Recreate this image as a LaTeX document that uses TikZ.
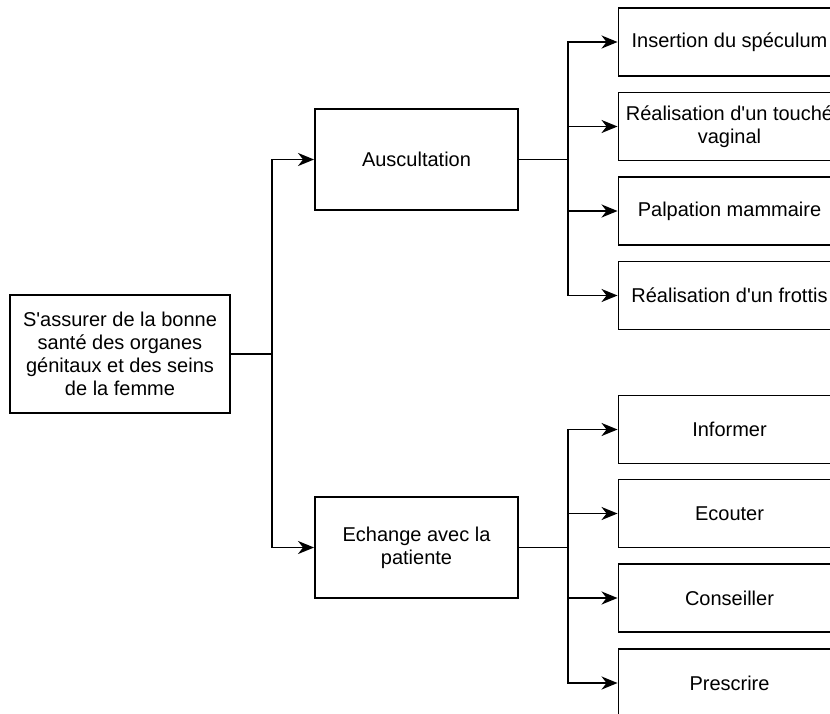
\documentclass[tikz,border=0pt]{standalone}
\usepackage{fontspec}
\newfontfamily\diafont{Liberation Sans}
\usetikzlibrary{arrows.meta}
\begin{document}
\begin{tikzpicture}[x=1pt,y=-1pt,
  box/.style={draw=black,line width=1.9pt,fill=white,align=center,
    font=\diafont\fontsize{20}{23}\selectfont,inner sep=0pt},
  rootbox/.style={box,minimum width=220pt,minimum height=118pt},
  midbox/.style={box,minimum width=203pt,minimum height=101pt},
  leafbox/.style={box,minimum width=222pt,minimum height=68pt},
  link/.style={line width=1.9pt,black},
  arrowlink/.style={link,-{Stealth[length=16pt,width=13pt,inset=5pt]}}]
\useasboundingbox (0,0) rectangle (830,713);
\clip (0,0) rectangle (830,713);
\fill[white] (0,0) rectangle (830,713);

\node[rootbox] (root) at (120,354) {S'assurer de la bonne\\santé des organes\\génitaux et des seins\\de la femme};
\node[midbox] (ausc) at (416.5,159.5) {Auscultation};
\node[midbox] (ech) at (416.5,547.5) {Echange avec la\\patiente};

\node[leafbox] (a1) at (729.5,42) {Insertion du spéculum};
\node[leafbox] (a2) at (729.5,126.5) {Réalisation d'un touché\\vaginal};
\node[leafbox] (a3) at (729.5,211) {Palpation mammaire};
\node[leafbox] (a4) at (729.5,295.5) {Réalisation d'un frottis};

\node[leafbox] (b1) at (729.5,429.5) {Informer};
\node[leafbox] (b2) at (729.5,513.5) {Ecouter};
\node[leafbox] (b3) at (729.5,598) {Conseiller};
\node[leafbox] (b4) at (729.5,683) {Prescrire};

\coordinate (j1) at (272,354);
\coordinate (j2) at (568,159.5);
\coordinate (j3) at (568,547.5);

\draw[link] (root.east) -- (j1);
\draw[arrowlink] (j1) |- (ausc.west);
\draw[arrowlink] (j1) |- (ech.west);

\draw[link] (ausc.east) -- (j2);
\foreach \n in {a1,a2,a3,a4} \draw[arrowlink] (j2) |- (\n.west);

\draw[link] (ech.east) -- (j3);
\foreach \n in {b1,b2,b3,b4} \draw[arrowlink] (j3) |- (\n.west);
\end{tikzpicture}
\end{document}
